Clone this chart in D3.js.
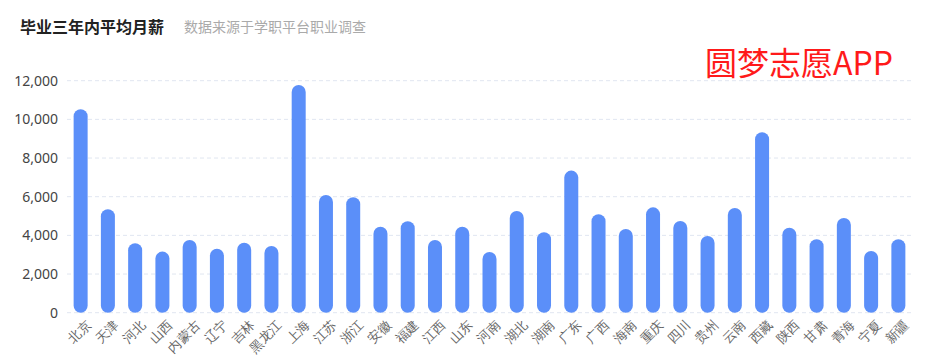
<!DOCTYPE html>
<html><head><meta charset="utf-8">
<script src="https://cdn.jsdelivr.net/npm/d3@7"></script>
<style>body{margin:0;background:#fff;font-family:"Noto Sans CJK SC","Noto Sans",sans-serif;}</style>
</head><body><svg id="c" width="934" height="359"></svg>
<script>
const categories = ["北京","天津","河北","山西","内蒙古","辽宁","吉林","黑龙江","上海","江苏","浙江","安徽","福建","江西","山东","河南","湖北","湖南","广东","广西","海南","重庆","四川","贵州","云南","西藏","陕西","甘肃","青海","宁夏","新疆"];
const salary = [10520,5350,3590,3160,3760,3310,3620,3450,11780,6090,5970,4450,4730,3760,4450,3140,5260,4160,7350,5090,4330,5450,4740,3970,5420,9330,4400,3800,4900,3190,3800];
const yTicks = [0,2000,4000,6000,8000,10000,12000];
const titleText = "毕业三年内平均月薪";
const subtitleText = "数据来源于学职平台职业调查";
const watermark = "圆梦志愿APP";

const svg = d3.select("#c");
const m = {left:67, right:22, top:80.7, bottom:46.3};
const W = 934, H = 359;
const x = d3.scaleBand().domain(categories).range([m.left, W - m.right]).padding(0);
const y = d3.scaleLinear().domain([0,12000]).range([H - m.bottom, m.top]);

// grid
svg.append("g").selectAll("line").data(yTicks).join("line")
  .attr("x1", m.left).attr("x2", W - m.right)
  .attr("y1", d => y(d)).attr("y2", d => y(d))
  .attr("stroke", "#e0e6f1").attr("stroke-dasharray", "4,3").attr("stroke-width",1);

// y axis
const ya = svg.append("g").attr("transform", `translate(${m.left},0)`)
  .call(d3.axisLeft(y).tickValues(yTicks).tickSize(0).tickPadding(9).tickFormat(d3.format(",")));
ya.select(".domain").remove();
ya.selectAll("text").attr("fill","#444").style("font-size","14px").style("font-family","'Noto Sans','Noto Sans CJK SC',sans-serif");

// bars
const bw = 14;
svg.append("g").selectAll("rect").data(categories).join("rect")
  .attr("x", d => x(d) + x.bandwidth()/2 - bw/2)
  .attr("width", bw)
  .attr("y", (d,i) => y(salary[i]))
  .attr("height", (d,i) => y(0) - y(salary[i]))
  .attr("rx", bw/2).attr("ry", bw/2)
  .attr("fill", "#5b8ff9");

// x labels
const xa = svg.append("g").attr("transform", `translate(0,${y(0)})`)
  .call(d3.axisBottom(x).tickSize(0).tickPadding(0));
xa.select(".domain").remove();
xa.selectAll("text")
  .attr("fill","#666").style("font-size","13px")
  .attr("text-anchor","end")
  .attr("transform","translate(8,10) rotate(-45)")
  .attr("y",0).attr("dy","0.35em");

// title
svg.append("text").attr("x",20).attr("y",33).text(titleText)
  .attr("fill","#222").style("font-size","16px").style("font-weight","bold");
svg.append("text").attr("x",184).attr("y",32).text(subtitleText)
  .attr("fill","#aaa").style("font-size","14px");
svg.append("text").attr("x",705).attr("y",75).text(watermark)
  .attr("fill","#ff1a1a").style("font-size","32px");
</script></body></html>
